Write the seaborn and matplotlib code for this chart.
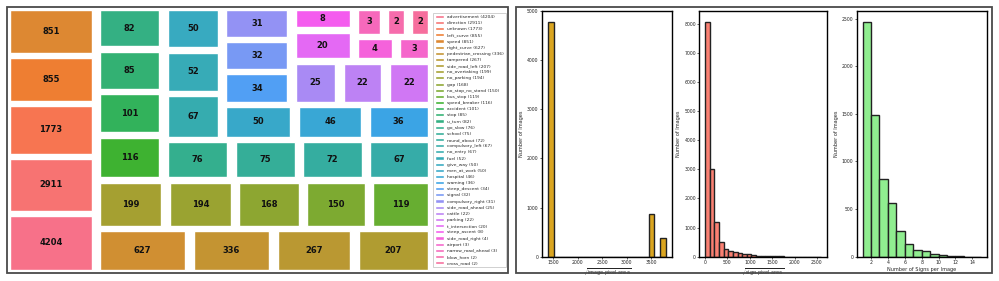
import numpy as np
import pandas as pd
import matplotlib
matplotlib.use("Agg")
import matplotlib.pyplot as plt
from matplotlib.patches import Rectangle
import seaborn as sns

# sign classes and how often they occur
sign_names = ["advertisement", "direction", "unknown", "left_curve", "speed", "right_curve",
              "pedestrian_crossing", "tampered", "side_road_left", "no_overtaking", "no_parking",
              "gap", "no_stop_no_stand", "bus_stop", "speed_breaker", "accident", "stop",
              "u_turn", "go_slow", "school", "round_about", "compulsory_left", "no_entry",
              "fuel", "give_way", "men_at_work", "hospital", "warning", "steep_descent",
              "signal", "compulsory_right", "side_road_ahead", "cattle", "parking",
              "t_intersection", "steep_ascent", "side_road_right", "airport",
              "narrow_road_ahead", "blow_horn", "cross_road"]
sign_counts = [4204, 2911, 1773, 855, 851, 627, 336, 267, 207, 199, 194, 168, 150, 119, 116,
               101, 85, 82, 76, 75, 72, 67, 67, 52, 50, 50, 46, 36, 34, 32, 31, 25, 22, 22,
               20, 8, 4, 3, 3, 2, 2]

# sqrt(image pixel area) histogram
img_area_lo, img_area_hi = 1385, 3808
img_counts = [4765, 0, 0, 0, 0, 0, 0, 0, 0, 0, 0, 0, 0, 0, 0, 0, 0, 860, 0, 390]

# sqrt(sign pixel area) histogram
sign_area_lo, sign_area_hi = 0, 2590
sign_area_counts = [8050, 3000, 1200, 505, 270, 200, 160, 125, 95, 80, 45, 30, 25, 15, 12,
                    10, 8, 5, 4, 3, 2, 1, 1, 0, 1]

# signs per image histogram
signs_per_image_edges = list(range(1, 16))
signs_per_image_counts = [2460, 1490, 820, 565, 275, 130, 72, 60, 30, 18, 8, 3, 2, 1]


# --- squarify layout (same algorithm as the squarify package) ---
def layoutrow(sizes, x, y, dx, dy):
    width = sum(sizes) / dy
    rects = []
    for s in sizes:
        rects.append([x, y, width, s / width])
        y += s / width
    return rects


def layoutcol(sizes, x, y, dx, dy):
    height = sum(sizes) / dx
    rects = []
    for s in sizes:
        rects.append([x, y, s / height, height])
        x += s / height
    return rects


def layout(sizes, x, y, dx, dy):
    return layoutrow(sizes, x, y, dx, dy) if dx >= dy else layoutcol(sizes, x, y, dx, dy)


def leftover(sizes, x, y, dx, dy):
    if dx >= dy:
        w = sum(sizes) / dy
        return x + w, y, dx - w, dy
    h = sum(sizes) / dx
    return x, y + h, dx, dy - h


def worst_ratio(sizes, x, y, dx, dy):
    return max(max(r[2] / r[3], r[3] / r[2]) for r in layout(sizes, x, y, dx, dy))


def squarify(sizes, x, y, dx, dy):
    if len(sizes) == 0:
        return []
    if len(sizes) == 1:
        return layout(sizes, x, y, dx, dy)
    i = 1
    while i < len(sizes) and worst_ratio(sizes[:i], x, y, dx, dy) >= worst_ratio(sizes[:i + 1], x, y, dx, dy):
        i += 1
    lx, ly, ldx, ldy = leftover(sizes[:i], x, y, dx, dy)
    return layout(sizes[:i], x, y, dx, dy) + squarify(sizes[i:], lx, ly, ldx, ldy)


def pad(r):
    x, y, dx, dy = r
    if dx > 2:
        x += 1
        dx -= 2
    if dy > 2:
        y += 1
        dy -= 2
    return [x, y, dx, dy]


sns.set_style("white")
plt.rcParams["font.family"] = ["DejaVu Sans"]

fig = plt.figure(figsize=(9.99, 2.81), dpi=100)
W, H = 999.0, 281.0


def box(x0, y0, x1, y1):
    return [x0 / W, 1 - y1 / H, (x1 - x0) / W, (y1 - y0) / H]


# panel frames
for (x0, y0, x1, y1) in [(6.5, 6.7, 508, 273.3), (516, 6.7, 992, 273.3)]:
    fig.patches.append(Rectangle((x0 / W, 1 - y1 / H), (x1 - x0) / W, (y1 - y0) / H,
                                 transform=fig.transFigure, fill=False,
                                 edgecolor="#4a4a4a", linewidth=1.3))

# --- treemap (areas on a log scale) ---
ax = fig.add_axes(box(6, 7.35, 432, 272.65))
sizes = np.log1p(np.array(sign_counts, dtype=float))
sizes = list(sizes * 100 * 100 / sizes.sum())
rects = [pad(r) for r in squarify(sizes, 0, 0, 100, 100)]
colors = sns.color_palette("husl", len(sign_counts))
for r, c, n, v in zip(rects, colors, sign_names, sign_counts):
    ax.bar(r[0], r[3], width=r[2], bottom=r[1], color=c, align="edge",
           label=f"{n} ({v})")
    ax.text(r[0] + r[2] / 2, r[1] + r[3] / 2, str(v), ha="center", va="center",
            fontsize=6, fontweight="bold", color="#111111")
ax.set_xlim(0, 100)
ax.set_ylim(0, 100)
ax.axis("off")
leg = ax.legend(loc="center left", bbox_to_anchor=(1.0, 0.5), fontsize=3.2,
                labelspacing=0.46, borderpad=0.4, borderaxespad=0.2,
                handlelength=2.0, handletextpad=0.8, frameon=True, fancybox=False)
leg.get_frame().set_edgecolor("#bbbbbb")
leg.get_frame().set_linewidth(0.6)


# --- histograms ---
def style(a, xlabel):
    a.set_xlabel(xlabel, fontsize=3.6, labelpad=1.5)
    a.set_ylabel("Number of Images", fontsize=3.6, labelpad=2)
    a.tick_params(axis="both", labelsize=3.3, length=1.5, width=0.5, pad=1,
                  colors="#222222", left=True, bottom=True)
    for s in a.spines.values():
        s.set_color("black")
        s.set_linewidth(1.0)


def hist(a, edges, counts, color):
    edges = [float(e) for e in edges]
    df = pd.DataFrame({
        "x": [(lo + hi) / 2 for lo, hi in zip(edges[:-1], edges[1:])],
        "w": counts,
    })
    sns.histplot(data=df, x="x", weights="w", bins=edges, color=color,
                 edgecolor="#222222", linewidth=1.0, alpha=1, ax=a)


ax1 = fig.add_axes(box(541.7, 10.7, 672.3, 256.7))
hist(ax1, np.linspace(img_area_lo, img_area_hi, len(img_counts) + 1), img_counts, "goldenrod")
ax1.set_xticks([1500, 2000, 2500, 3000, 3500])
style(ax1, r"$\sqrt{\mathrm{image\ pixel\ area}}$")

ax2 = fig.add_axes(box(699.3, 10.7, 826.7, 256.7))
hist(ax2, np.linspace(sign_area_lo, sign_area_hi, len(sign_area_counts) + 1),
     sign_area_counts, "salmon")
ax2.set_xticks([0, 500, 1000, 1500, 2000, 2500])
style(ax2, r"$\sqrt{\mathrm{sign\ pixel\ area}}$")

ax3 = fig.add_axes(box(856.7, 10.7, 986.7, 256.7))
hist(ax3, signs_per_image_edges, signs_per_image_counts, "lightgreen")
ax3.set_xticks([2, 4, 6, 8, 10, 12, 14])
style(ax3, "Number of Signs per Image")

fig.savefig("out.png", dpi=100)
